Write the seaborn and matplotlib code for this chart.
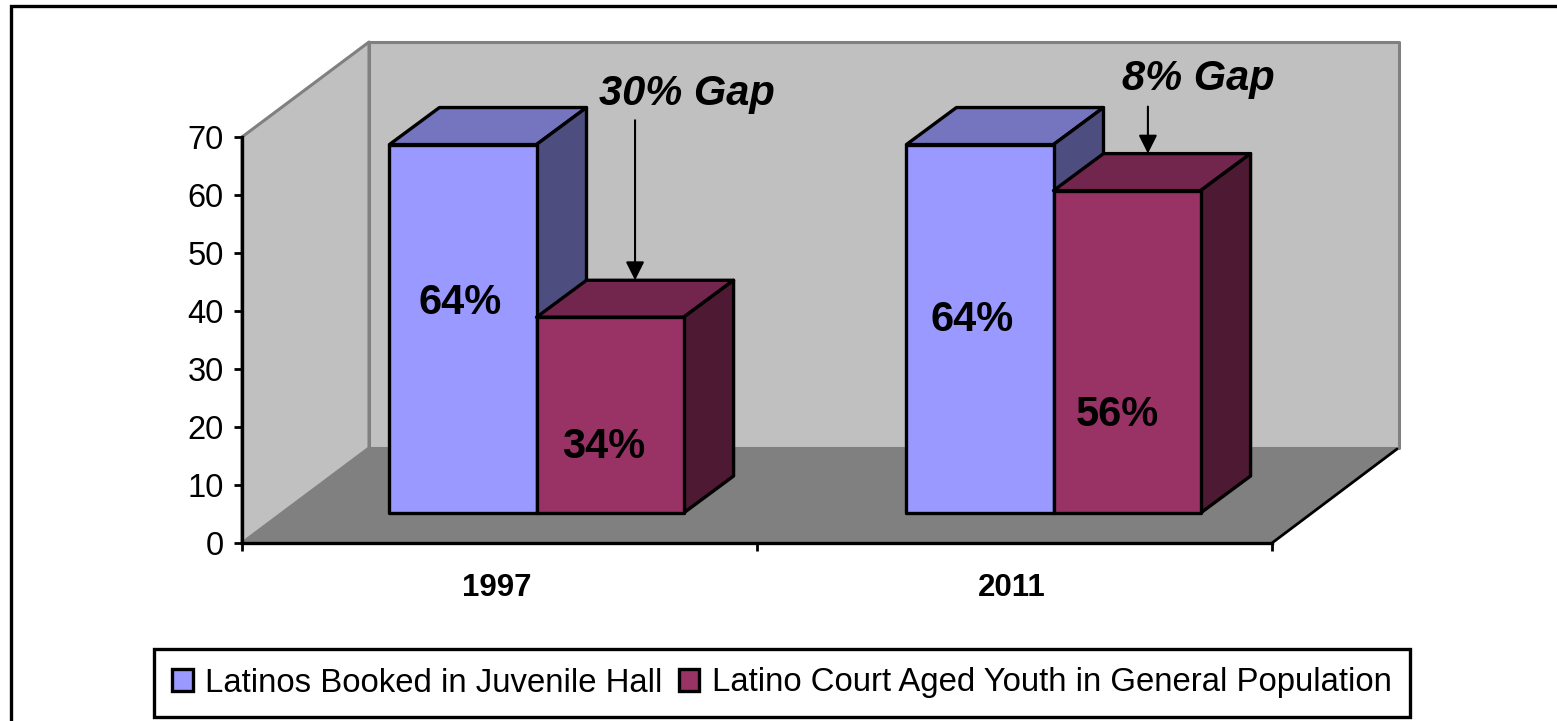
#!/usr/bin/env python3
# -*- coding: utf-8 -*-
"""3D style grouped bar chart of the Latino booking gap, 1997 vs 2011."""
#%%
import pandas as pd
import seaborn as sns
import matplotlib.pyplot as plt
from matplotlib.patches import Polygon
from matplotlib.transforms import ScaledTranslation

years = ["1997", "2011"]
booked = [64, 64]
general = [34, 56]
series_names = ["Latinos Booked in Juvenile Hall",
                "Latino Court Aged Youth in General Population"]
gap_labels = ["30% Gap", "8% Gap"]
yticks = [0, 10, 20, 30, 40, 50, 60, 70]

#%%
sns.set_theme(style="white")
plt.rcParams["font.family"] = ["Liberation Sans", "DejaVu Sans"]
plt.rcParams["text.color"] = "black"

W, H = 1557, 721
# chart box in pixels, measured from top left
left, right, top, bottom = 242, 1272, 137, 543
depth_x, depth_y = 127, 95      # shift to the back wall
bar_left, bar_right = 278, 1312 # bars stand a little behind the front edge
bar_top, bar_bottom = 110, 513
bar_dx, bar_dy = 50, 37         # depth of a bar

faces = {"blue": ("#9999FF", "#7575BF", "#4D4D80"),
         "red": ("#993366", "#73264D", "#4D1933")}


def px_axes(x0, x1, y0, y1, **kw):
    return fig.add_axes([x0 / W, 1 - y1 / H, (x1 - x0) / W, (y1 - y0) / H], **kw)


fig = plt.figure(figsize=(W / 100, H / 100), dpi=100, facecolor="white")

#%% walls and floor
bg = px_axes(0, W, 0, H, zorder=0)
bg.set_xlim(0, W); bg.set_ylim(H, 0); bg.axis("off")
bx, by = left + depth_x, bottom - depth_y
tx, ty = left + depth_x, top - depth_y
bg.add_patch(Polygon([(left, top), (tx, ty), (bx, by), (left, bottom)],
                     fc="#C0C0C0", ec="#808080", lw=2.2, joinstyle="round"))
bg.add_patch(Polygon([(tx, ty), (right + depth_x, ty), (right + depth_x, by), (bx, by)],
                     fc="#C0C0C0", ec="#808080", lw=2.2, joinstyle="round"))
bg.add_patch(Polygon([(left, bottom), (right, bottom), (right + depth_x, by), (bx, by)],
                     fc="#808080", ec="none"))
bg.plot([right, right + depth_x - 2], [bottom, by + 1], color="black", lw=2)
# outer frame, only the top and left sides fall inside the picture
bg.plot([11, 11, W], [H, 6, 6], color="black", lw=2.4, solid_joinstyle="miter")

#%% axis frame
ax = px_axes(left, right, top, bottom, zorder=1)
ax.patch.set_visible(False)
ax.set_xlim(-0.5, 1.5); ax.set_ylim(0, 70)
ax.set_yticks(yticks)
ax.set_xticks(range(len(years)), labels=years, fontweight="bold", fontsize=22.5)
ax.set_xticks([-0.5, 0.5, 1.5], minor=True)
ax.tick_params(axis="x", which="major", length=0, pad=21.5, labelcolor="black")
ax.tick_params(axis="x", which="minor", length=6, width=2, color="black", bottom=True)
ax.tick_params(axis="y", length=6, width=2, color="black", labelsize=23.5, left=True,
               pad=7, labelcolor="black")
for lab in ax.get_xticklabels():
    lab.set_transform(lab.get_transform() + ScaledTranslation(-3 / 100, 0, fig.dpi_scale_trans))
for side in ["top", "right"]:
    ax.spines[side].set_visible(False)
for side in ["left", "bottom"]:
    ax.spines[side].set_linewidth(2.4)
    ax.spines[side].set_color("black")

#%% bars
bar_ax = px_axes(bar_left, bar_right, bar_top, bar_bottom, zorder=2)
bar_ax.patch.set_visible(False)
df = pd.DataFrame({
    "year": years * 2,
    "value": booked + general,
    "series": [series_names[0]] * len(years) + [series_names[1]] * len(years),
})
sns.barplot(data=df, x="year", y="value", hue="series", ax=bar_ax,
            palette=[faces["blue"][0], faces["red"][0]], hue_order=series_names,
            width=0.569, gap=0, saturation=1, edgecolor="black", linewidth=2.4, legend=True)
bar_ax.set_xlim(-0.5, 1.5); bar_ax.set_ylim(0, 70)

dx = bar_dx * 2 / (bar_right - bar_left)
dy = bar_dy * 70 / (bar_bottom - bar_top)
for k, (cont, key) in enumerate(zip(bar_ax.containers, ["blue", "red"])):
    for b in cont:
        b.set_zorder(3 + 2 * k + 1)
        b.set_clip_on(False)
        b.set_joinstyle("round")
        x0, w, h = b.get_x(), b.get_width(), b.get_height()
        top_face = [(x0, h), (x0 + dx, h + dy), (x0 + w + dx, h + dy), (x0 + w, h)]
        side_face = [(x0 + w, h), (x0 + w + dx, h + dy), (x0 + w + dx, dy), (x0 + w, 0)]
        for pts, col in [(top_face, faces[key][1]), (side_face, faces[key][2])]:
            bar_ax.add_patch(Polygon(pts, fc=col, ec="black", lw=2.4, joinstyle="round",
                                     clip_on=False, zorder=3 + 2 * k))
bar_ax.axis("off")

#%% legend
handles, labels = bar_ax.get_legend_handles_labels()
bar_ax.get_legend().remove()
leg = fig.legend(handles, labels, ncol=2, loc="center", bbox_to_anchor=(782 / W, 1 - 683 / H),
                 fontsize=23.7, frameon=True, fancybox=False, edgecolor="black", framealpha=1,
                 labelcolor="black", handlelength=0.62, handleheight=0.62, handletextpad=0.38,
                 columnspacing=0.5, borderpad=0.55, borderaxespad=0)
leg.get_frame().set_linewidth(2.4)

#%% gap arrows, tip sits on the back edge of the shorter bar
tails = [160, 47]
arrow_off = [0, -0.008]
red_bars = bar_ax.containers[1]
for b, tail, off in zip(red_bars, tails, arrow_off):
    tip = (b.get_x() + b.get_width() / 2 + dx / 2 + off, b.get_height() + dy)
    bar_ax.annotate("", xy=tip, xytext=(0, tail), textcoords="offset pixels",
                    annotation_clip=False, zorder=9,
                    arrowprops=dict(arrowstyle="-|>,head_length=0.8,head_width=0.4",
                                    mutation_scale=14, color="black", lw=1.5,
                                    shrinkA=0, shrinkB=0))

#%% text labels
over = px_axes(0, W, 0, H, zorder=3)
over.set_xlim(0, W); over.set_ylim(H, 0); over.axis("off")
text_kw = dict(ha="center", va="center", fontweight="bold", color="black")
label_pos = [(460, 303), (972, 320), (604, 447), (1117, 415)]
values = booked + general
for (x, y), v in zip(label_pos, values):
    over.text(x, y, f"{v}%", fontsize=30, **text_kw)
gap_pos = [(687, 94), (1198, 79)]
for (x, y), s in zip(gap_pos, gap_labels):
    over.text(x, y, s, fontsize=30, fontstyle="italic", **text_kw)

plt.savefig("out.png", dpi=100)
plt.close()
